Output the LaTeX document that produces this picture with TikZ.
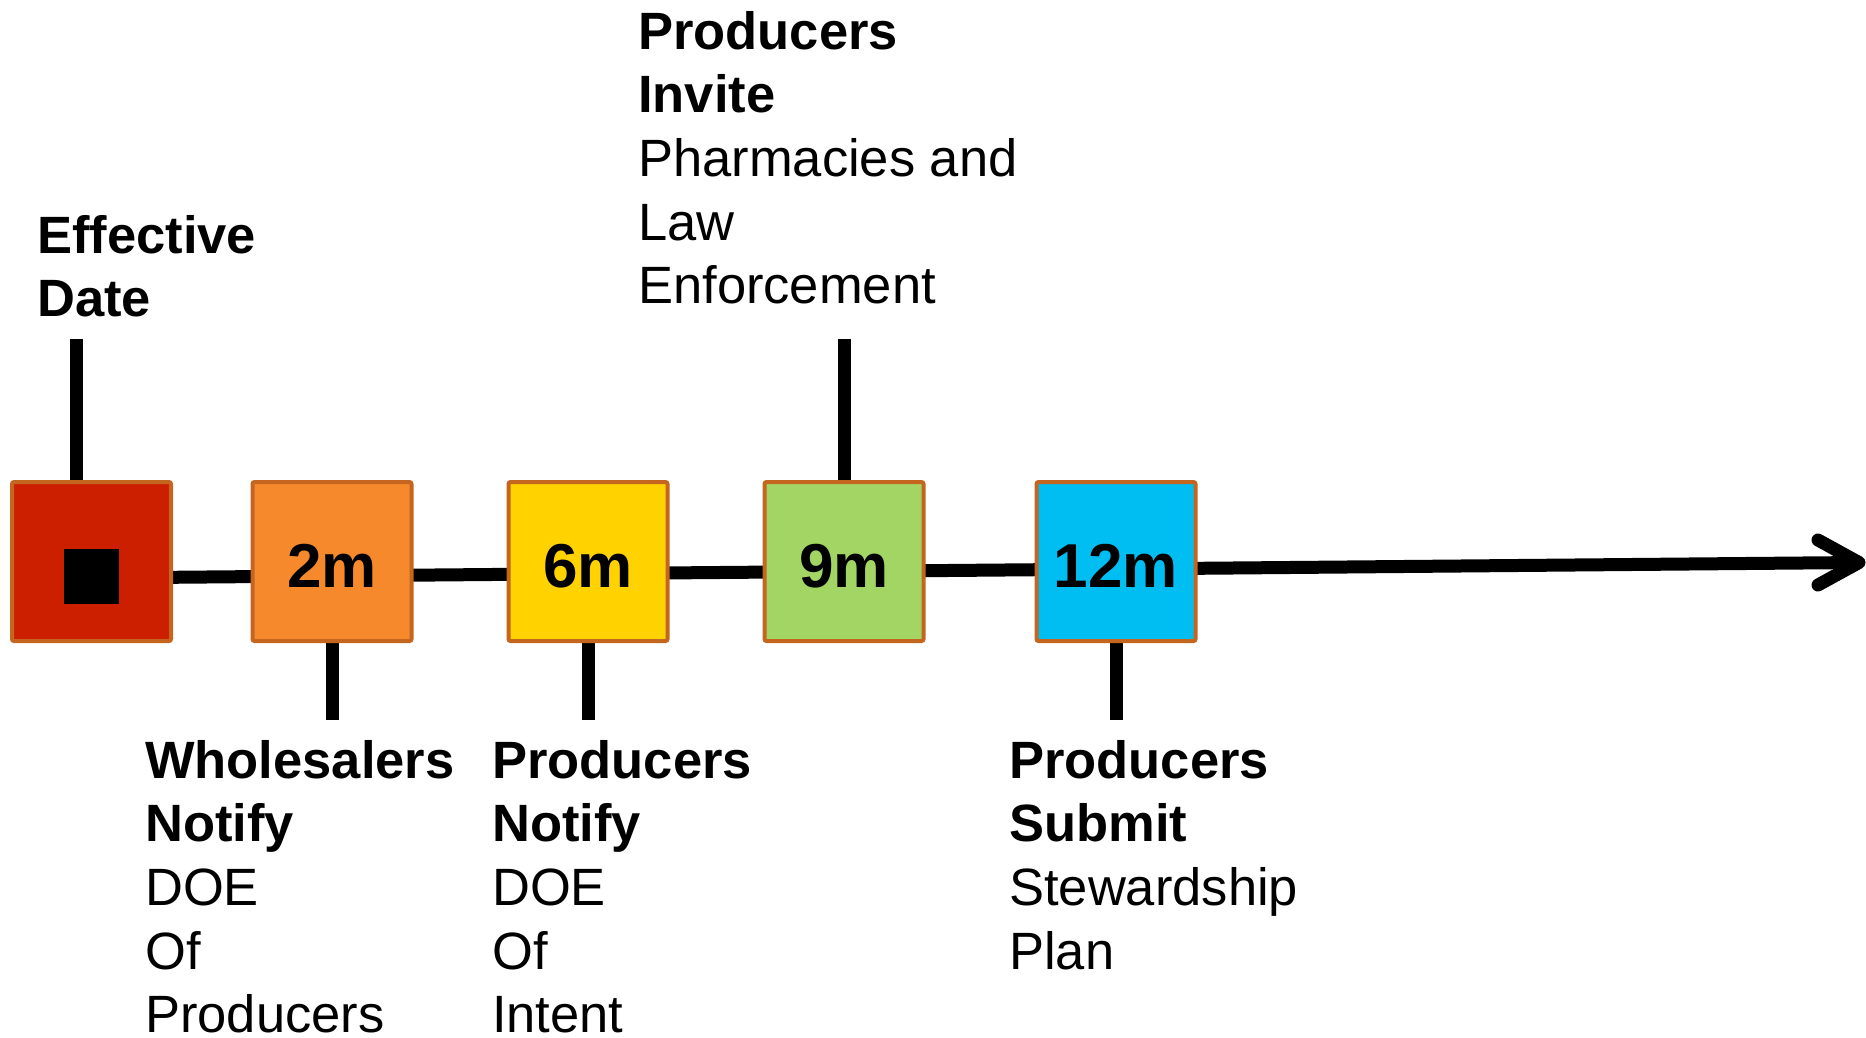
\documentclass[tikz,border=0pt]{standalone}
\usepackage{fontspec}
\setmainfont{Liberation Sans}
\usetikzlibrary{backgrounds}
\definecolor{boxborder}{HTML}{C4661F}
\definecolor{cred}{HTML}{CC1F00}
\definecolor{corange}{HTML}{F6892C}
\definecolor{cyellow}{HTML}{FFD200}
\definecolor{cgreen}{HTML}{A2D563}
\definecolor{cblue}{HTML}{00BDF2}
\begin{document}
\begin{tikzpicture}[x=1pt,y=-1pt,
  box/.style={draw=boxborder, line width=4pt, rounded corners=2pt, minimum size=159pt, inner sep=0pt, text height=52pt, text depth=0pt, font=\fontsize{62}{70}\selectfont\bfseries},
  axisline/.style={line width=13pt},
  tickline/.style={line width=13pt},
  lbl/.style={anchor=base west, inner sep=0pt, font=\fontsize{52.5}{63.7}\selectfont}]
\useasboundingbox (0,0) rectangle (1866,1037);

% boxes
\node[box, fill=cred]    (b1) at (91.5,561.5) {};
\node[box, fill=corange] (b2) at (332,561.5) {2m};
\node[box, fill=cyellow] (b3) at (588,561.5) {6m};
\node[box, fill=cgreen]  (b4) at (844,561.5) {9m};
\node[box, fill=cblue]   (b5) at (1116,561.5) {12m};
\node[fill=black, minimum size=55pt, inner sep=0pt] (stopsq) at (91.5,576.5) {};

% timeline and ticks
\coordinate (lstart) at (91.5,578);
\coordinate (tip) at (1859,562.5);
\coordinate (armtop) at (1818,540);
\coordinate (armbot) at (1818,585);
\coordinate (teff) at (76,339);
\coordinate (t9) at (844,339);
\coordinate (t2) at (332,720);
\coordinate (t6) at (588,720);
\coordinate (t12) at (1116,720);
\begin{pgfonlayer}{background}
\draw[axisline] (lstart) -- (tip);
\draw[tickline] (teff) -- (teff |- b1.north);
\draw[tickline] (t9) -- (b4.north);
\draw[tickline] (b2.south) -- (t2);
\draw[tickline] (b3.south) -- (t6);
\draw[tickline] (b5.south) -- (t12);
\end{pgfonlayer}
\draw[axisline, line cap=round, line join=round] (armtop) -- (tip) -- (armbot);

% labels
\node[lbl] (leff) at (37,253) {\begin{tabular}[t]{@{}l@{}}\textbf{Effective}\\\textbf{Date}\end{tabular}};
\node[lbl] (l9) at (638,49) {\begin{tabular}[t]{@{}l@{}}\textbf{Producers}\\\textbf{Invite}\\Pharmacies and\\Law\\Enforcement\end{tabular}};
\node[lbl] (l2) at (145,778) {\begin{tabular}[t]{@{}l@{}}\textbf{Wholesalers}\\\textbf{Notify}\\DOE\\Of\\Producers\end{tabular}};
\node[lbl] (l6) at (492,778) {\begin{tabular}[t]{@{}l@{}}\textbf{Producers}\\\textbf{Notify}\\DOE\\Of\\Intent\end{tabular}};
\node[lbl] (l12) at (1009,778) {\begin{tabular}[t]{@{}l@{}}\textbf{Producers}\\\textbf{Submit}\\Stewardship\\Plan\end{tabular}};
\end{tikzpicture}
\end{document}
